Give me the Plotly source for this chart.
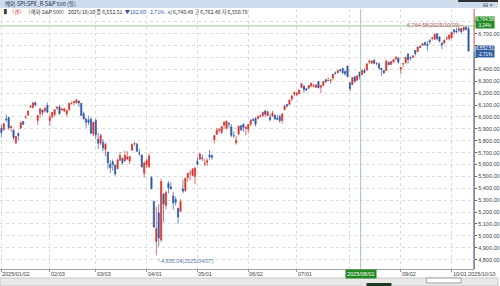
import plotly.graph_objects as go

# ---------------- data ----------------
dates = [
 "2025/01/02","2025/01/03","2025/01/06","2025/01/07","2025/01/08","2025/01/10","2025/01/13","2025/01/14","2025/01/15","2025/01/16",
 "2025/01/17","2025/01/21","2025/01/22","2025/01/23","2025/01/24","2025/01/27","2025/01/28","2025/01/29","2025/01/30","2025/01/31",
 "2025/02/03","2025/02/04","2025/02/05","2025/02/06","2025/02/07","2025/02/10","2025/02/11","2025/02/12","2025/02/13","2025/02/14",
 "2025/02/18","2025/02/19","2025/02/20","2025/02/21","2025/02/24","2025/02/25","2025/02/26","2025/02/27","2025/02/28",
 "2025/03/03","2025/03/04","2025/03/05","2025/03/06","2025/03/07","2025/03/10","2025/03/11","2025/03/12","2025/03/13","2025/03/14",
 "2025/03/17","2025/03/18","2025/03/19","2025/03/20","2025/03/21","2025/03/24","2025/03/25","2025/03/26","2025/03/27","2025/03/28","2025/03/31",
 "2025/04/01","2025/04/02","2025/04/03","2025/04/04","2025/04/07","2025/04/08","2025/04/09","2025/04/10","2025/04/11","2025/04/14",
 "2025/04/15","2025/04/16","2025/04/17","2025/04/21","2025/04/22","2025/04/23","2025/04/24","2025/04/25","2025/04/28","2025/04/29","2025/04/30",
 "2025/05/01","2025/05/02","2025/05/05","2025/05/06","2025/05/07","2025/05/08","2025/05/09","2025/05/12","2025/05/13","2025/05/14",
 "2025/05/15","2025/05/16","2025/05/19","2025/05/20","2025/05/21","2025/05/22","2025/05/23","2025/05/27","2025/05/28","2025/05/29","2025/05/30",
 "2025/06/02","2025/06/03","2025/06/04","2025/06/05","2025/06/06","2025/06/09","2025/06/10","2025/06/11","2025/06/12","2025/06/13",
 "2025/06/16","2025/06/17","2025/06/18","2025/06/20","2025/06/23","2025/06/24","2025/06/25","2025/06/26","2025/06/27","2025/06/30",
 "2025/07/01","2025/07/02","2025/07/03","2025/07/07","2025/07/08","2025/07/09","2025/07/10","2025/07/11","2025/07/14","2025/07/15",
 "2025/07/16","2025/07/17","2025/07/18","2025/07/21","2025/07/22","2025/07/23","2025/07/24","2025/07/25","2025/07/28","2025/07/29","2025/07/30","2025/07/31",
 "2025/08/01","2025/08/04","2025/08/05","2025/08/06","2025/08/07","2025/08/08","2025/08/11","2025/08/12","2025/08/13","2025/08/14",
 "2025/08/15","2025/08/18","2025/08/19","2025/08/20","2025/08/21","2025/08/22","2025/08/25","2025/08/26","2025/08/27","2025/08/28","2025/08/29",
 "2025/09/02","2025/09/03","2025/09/04","2025/09/05","2025/09/08","2025/09/09","2025/09/10","2025/09/11","2025/09/12","2025/09/15",
 "2025/09/16","2025/09/17","2025/09/18","2025/09/19","2025/09/22","2025/09/23","2025/09/24","2025/09/25","2025/09/26","2025/09/29","2025/09/30",
 "2025/10/01","2025/10/02","2025/10/03","2025/10/06","2025/10/07","2025/10/08","2025/10/09","2025/10/10",
]

opens = [
 5903,5892,5982,5994,5911,5890,5782,5859,5905,5961,5995,6015,6082,6077,6121,5970,6027,6057,6051,6096,
 5969,5999,6021,6073,6083,6059,6049,6026,6061,6115,6122,6118,6134,6114,6027,5982,5971,5982,5857,
 5969,5812,5781,5785,5727,5705,5604,5624,5594,5564,5635,5653,5632,5646,5630,5719,5776,5771,5696,5679,5527,
 5597,5581,5492,5292,4953,5193,4966,5353,5255,5441,5412,5335,5306,5232,5207,5395,5381,5490,5529,5508,5499,
 5625,5645,5655,5606,5618,5679,5675,5808,5854,5887,5869,5930,5902,5944,5915,5842,5782,5855,5926,5939,5903,
 5897,5939,5978,5985,5987,6005,6010,6050,6010,5997,6005,6012,5987,6004,5970,6061,6105,6107,6151,6194,
 6187,6194,6247,6260,6237,6240,6261,6256,6249,6296,6250,6264,6313,6305,6307,6327,6369,6371,6397,6409,6381,6427,
 6287,6271,6337,6310,6375,6355,6391,6395,6461,6452,6478,6446,6446,6409,6389,6388,6458,6441,6461,6489,6495,
 6401,6445,6457,6530,6499,6502,6560,6550,6592,6600,6627,6609,6641,6661,6652,6700,6672,6618,6622,6661,6658,
 6664,6732,6722,6729,6741,6730,6753,6740.49,
]
highs = [
 5935,5949,6021,6000,5927,5890,5838,5871,5960,5965,6014,6051,6100,6119,6128,6018,6075,6062,6087,6120,
 6022,6042,6062,6084,6101,6074,6076,6064,6116,6127,6130,6147,6134,6115,6044,5992,6010,5994,5959,
 5987,5866,5861,5812,5783,5706,5636,5642,5598,5645,5704,5654,5716,5711,5670,5776,5787,5781,5732,5685,5627,
 5651,5695,5500,5292,5246,5267,5481,5353,5381,5460,5450,5368,5329,5233,5310,5469,5489,5528,5554,5571,5581,
 5659,5700,5683,5648,5654,5721,5684,5845,5907,5906,5924,5959,5969,5954,5939,5878,5839,5925,5930,5944,5922,
 5938,5982,5990,5999,6017,6021,6043,6060,6046,6027,6051,6024,6018,6019,6028,6101,6108,6146,6188,6216,
 6211,6228,6285,6263,6242,6269,6291,6275,6272,6302,6270,6304,6316,6336,6317,6359,6381,6390,6401,6410,6391,6428,
 6288,6330,6345,6348,6379,6395,6409,6446,6481,6474,6481,6460,6456,6410,6394,6481,6466,6468,6486,6508,6495,
 6416,6450,6502,6533,6507,6515,6560,6592,6600,6619,6627,6639,6656,6671,6697,6702,6674,6632,6650,6679,6689,
 6718,6739,6750,6749,6745,6755,6764.58,6762.40,
]
lows = [
 5830,5888,5960,5891,5874,5809,5774,5805,5905,5937,5984,6007,6076,6075,6089,5932,5995,6012,6034,6030,
 5924,5990,6007,6060,6020,6051,6043,6003,6051,6104,6099,6111,6085,6009,5977,5908,5933,5858,5837,
 5810,5732,5762,5712,5667,5565,5529,5547,5505,5564,5631,5598,5622,5640,5603,5719,5757,5703,5670,5572,5489,
 5572,5571,5391,5069,4835.04,4910,4950,5115,5221,5358,5387,5221,5255,5102,5207,5356,5372,5456,5468,5506,5434,
 5597,5640,5629,5588,5585,5640,5640,5778,5854,5869,5856,5902,5896,5908,5830,5825,5767,5854,5886,5874,5843,
 5861,5922,5966,5921,5978,5994,6000,6002,6004,5963,6005,5975,5971,5952,5944,6056,6077,6099,6133,6174,
 6173,6190,6245,6201,6217,6235,6249,6249,6241,6242,6201,6262,6283,6303,6282,6309,6360,6368,6377,6359,6346,6331,
 6212,6271,6289,6301,6315,6355,6365,6386,6445,6441,6443,6433,6397,6343,6360,6386,6438,6439,6456,6472,6447,
 6360,6417,6446,6446,6474,6490,6514,6545,6577,6598,6598,6558,6611,6641,6651,6642,6624,6570,6614,6645,6642,
 6656,6693,6706,6711,6700,6718,6728,6550.78,
]
closes = [
 5869,5942,5975,5909,5918,5827,5836,5843,5950,5937,5997,6049,6086,6119,6101,6012,6068,6039,6071,6041,
 5995,6038,6061,6084,6026,6066,6069,6052,6115,6115,6130,6144,6118,6013,5983,5955,5956,5862,5955,
 5850,5778,5843,5739,5770,5615,5572,5599,5522,5639,5675,5615,5675,5663,5668,5768,5777,5712,5693,5581,5612,
 5633,5671,5397,5074,5062,4983,5457,5268,5363,5406,5397,5276,5283,5158,5288,5376,5485,5525,5529,5561,5569,
 5604,5687,5650,5607,5631,5664,5660,5844,5887,5893,5917,5958,5964,5940,5845,5842,5803,5922,5889,5912,5912,
 5936,5970,5971,5939,6000,6006,6039,6022,6045,5977,6033,5983,5981,5968,6025,6092,6092,6141,6173,6205,
 6198,6227,6279,6230,6226,6263,6280,6260,6269,6244,6264,6297,6297,6306,6310,6359,6363,6389,6390,6371,6363,6339,
 6238,6330,6299,6345,6340,6389,6373,6446,6467,6469,6450,6449,6411,6396,6370,6467,6439,6466,6481,6502,6460,
 6416,6448,6502,6482,6495,6513,6532,6587,6584,6615,6607,6600,6632,6664,6694,6657,6638,6605,6644,6661,6688,
 6711,6715,6716,6740,6715,6754,6735,6552.51,
]

tick_dates = ["2025/01/02","2025/02/03","2025/03/03","2025/04/01","2025/05/01",
              "2025/06/02","2025/07/01","2025/08/01","2025/09/02","2025/10/01"]
tick_texts = ["2025/01/02","02/03","03/03","04/01","05/01","06/02","07/01","","09/02","10/01"]
price_ticks = [4800,4900,5000,5100,5200,5300,5400,5500,5600,5700,5800,5900,
               6000,6100,6200,6300,6400,6500,6600,6700,6800]
hidden_price_labels = [6500, 6600, 6800]   # covered by the price boxes in the reference

high_val, high_date = 6764.58, "2025/10/09"
low_val, low_date = 4835.04, "2025/04/07"
last_close, prev_change, pct_change = 6552.51, 182.60, -2.71
cross_date = "2025/08/01"

# ---------------- figure ----------------
idx = list(range(len(dates)))
RED = "#d8322c"
BLUE = "#2f56a6"
FONT = "Liberation Sans, Noto Sans CJK KR, sans-serif"
KFONT = "Noto Sans CJK KR, sans-serif"

fig = go.Figure()
fig.add_trace(go.Candlestick(
    x=idx, open=opens, high=highs, low=lows, close=closes,
    increasing=dict(line=dict(color=RED, width=0.7), fillcolor=RED),
    decreasing=dict(line=dict(color=BLUE, width=0.7), fillcolor=BLUE),
    whiskerwidth=0, hoverinfo="skip", showlegend=False,
))

XD = [0, 0.952]
YD = [17/286, 277/286]
tick_idx = [dates.index(d) for d in tick_dates]
hi_i = dates.index(high_date)
lo_i = dates.index(low_date)
last_i = len(dates) - 1
cross_pos = 148.4

price_text = ["" if p in hidden_price_labels else f"{p:,.2f}" for p in price_ticks]

fig.update_layout(
    width=500, height=286, margin=dict(l=0, r=0, t=0, b=0),
    paper_bgcolor="white", plot_bgcolor="white",
    xaxis=dict(domain=XD, range=[-0.58, 195.3], rangeslider=dict(visible=False),
               showgrid=True, gridcolor="#dcdcdc", griddash="dot", gridwidth=1,
               tickvals=tick_idx, showticklabels=False, ticks="outside", ticklen=2,
               tickcolor="#909090", showline=True, linecolor="#a0a0a0", linewidth=1,
               zeroline=False, fixedrange=True),
    yaxis=dict(domain=YD, range=[4721.8, 6906.7], side="right",
               tickvals=price_ticks, ticktext=price_text,
               tickfont=dict(family=FONT, size=5.5, color="#404040"),
               ticks="outside", ticklen=2, tickcolor="#606060",
               showgrid=True, gridcolor="#dcdcdc", griddash="dot", gridwidth=1,
               showline=False, zeroline=False, fixedrange=True),
)

shapes = []
# title bar
shapes.append(dict(type="rect", xref="paper", yref="paper", x0=0, x1=1, y0=278/286, y1=1,
                   fillcolor="#cddcec", line=dict(width=0), layer="above"))
shapes.append(dict(type="rect", xref="paper", yref="paper", x0=460/500, x1=1, y0=284/286, y1=1,
                   fillcolor="#303030", line=dict(width=0), layer="above"))
# bottom scroll bar area
shapes.append(dict(type="rect", xref="paper", yref="paper", x0=0, x1=1, y0=0, y1=8/286,
                   fillcolor="#e9e9e9", line=dict(color="#c8c8c8", width=1), layer="above"))
shapes.append(dict(type="rect", xref="paper", yref="paper", x0=428/500, x1=463/500, y0=3/286, y1=8/286,
                   fillcolor="white", line=dict(color="#a0a0a0", width=1), layer="above"))
shapes.append(dict(type="rect", xref="paper", yref="paper", x0=368/500, x1=393/500, y0=0, y1=3/286,
                   fillcolor="#1d3a24", line=dict(width=0), layer="above"))
# high level line
shapes.append(dict(type="line", xref="paper", yref="y", x0=0, x1=XD[1], y0=high_val, y1=high_val,
                   line=dict(color="#9ccb9c", width=1), layer="above"))
# crosshair vertical
shapes.append(dict(type="line", xref="x", yref="paper", x0=cross_pos, x1=cross_pos, y0=YD[0], y1=YD[1],
                   line=dict(color="#a3cfa3", width=1), layer="above"))
# right axis line: red above last price, blue below
shapes.append(dict(type="line", xref="paper", yref="y", x0=XD[1], x1=XD[1], y0=last_close, y1=6906.7,
                   line=dict(color="#c0504d", width=1)))
shapes.append(dict(type="line", xref="paper", yref="y", x0=XD[1], x1=XD[1], y0=4721.8, y1=last_close,
                   line=dict(color="#37568a", width=1.2)))
fig.update_layout(shapes=shapes)

ann = []
# title
ann.append(dict(xref="paper", yref="paper", x=3/500, y=282/286, xanchor="left", yanchor="middle",
                text="해외-SPI:SPX_R-S&P 500 (일)", showarrow=False,
                font=dict(family=KFONT, size=5.5, color="#1c2c50")))
ann.append(dict(xref="paper", yref="paper", x=497/500, y=281/286, xanchor="right", yanchor="middle",
                text="⊟ ×", showarrow=False, font=dict(family=FONT, size=5.5, color="#303030")))
# legend line
leg = ("<span style='color:#303030'>▌</span><span style='color:#d8322c'>〈캔〉</span> "
       "〈해외-S&P 500〉 2025/10/10 종 " + f"{last_close:,.2f}" + "  "
       "<span style='color:#2f56a6'>▼" + f"{prev_change:,.2f}" + " - " + f"{abs(pct_change):.2f}%" + "</span>"
       "  시 " + f"{opens[-1]:,.2f}" + " 고 " + f"{highs[-1]:,.2f}" + " 저 " + f"{lows[-1]:,.2f}")
ann.append(dict(xref="paper", yref="paper", x=2/500, y=274.5/286, xanchor="left", yanchor="middle",
                text=leg, showarrow=False, font=dict(family=KFONT, size=5.2, color="#303030")))
# x labels
for i, t in zip(tick_idx, tick_texts):
    if not t:
        continue
    ann.append(dict(xref="x", yref="paper", x=i, y=12.5/286, xanchor="left", yanchor="middle",
                    text=t, showarrow=False, xshift=-1,
                    font=dict(family=FONT, size=5.5, color="#404040")))
ann.append(dict(xref="paper", yref="paper", x=1, y=12.5/286, xanchor="right", yanchor="middle",
                text=dates[last_i], showarrow=False, font=dict(family=FONT, size=5.5, color="#404040")))
# crosshair date box
ann.append(dict(xref="x", yref="paper", x=cross_pos, y=12.5/286, xanchor="center", yanchor="middle",
                text=cross_date, showarrow=False, bgcolor="#1f8a1f", borderpad=1,
                font=dict(family=FONT, size=5.5, color="white")))
# high / low annotations
ann.append(dict(xref="x", yref="y", x=hi_i, y=high_val, xanchor="right", yanchor="middle",
                text=f"{high_val:,.2f}({high_date})─", showarrow=False, yshift=1,
                font=dict(family=FONT, size=5.5, color="#b85a5a")))
ann.append(dict(xref="x", yref="y", x=lo_i, y=low_val, xanchor="left", yanchor="top",
                text=f"└{low_val:,.2f}({low_date})", showarrow=False, xshift=-1,
                font=dict(family=FONT, size=5.5, color="#5a78a8")))
# right price boxes
ann.append(dict(xref="paper", yref="y", x=477/500, y=high_val, xanchor="left", yanchor="middle",
                text=f"{high_val:,.2f}<br>3.24%", showarrow=False, bgcolor="#1f8a1f", borderpad=0,
                align="center", yshift=3, font=dict(family=FONT, size=4.6, color="white")))
ann.append(dict(xref="paper", yref="y", x=477/500, y=last_close, xanchor="left", yanchor="middle",
                text=f"{last_close:,.2f}<br>{pct_change:.2f}%", showarrow=False, bgcolor="#2f5f9f",
                borderpad=0, align="center", font=dict(family=FONT, size=4.6, color="white")))
fig.update_layout(annotations=ann)

fig.write_html("out.html")
